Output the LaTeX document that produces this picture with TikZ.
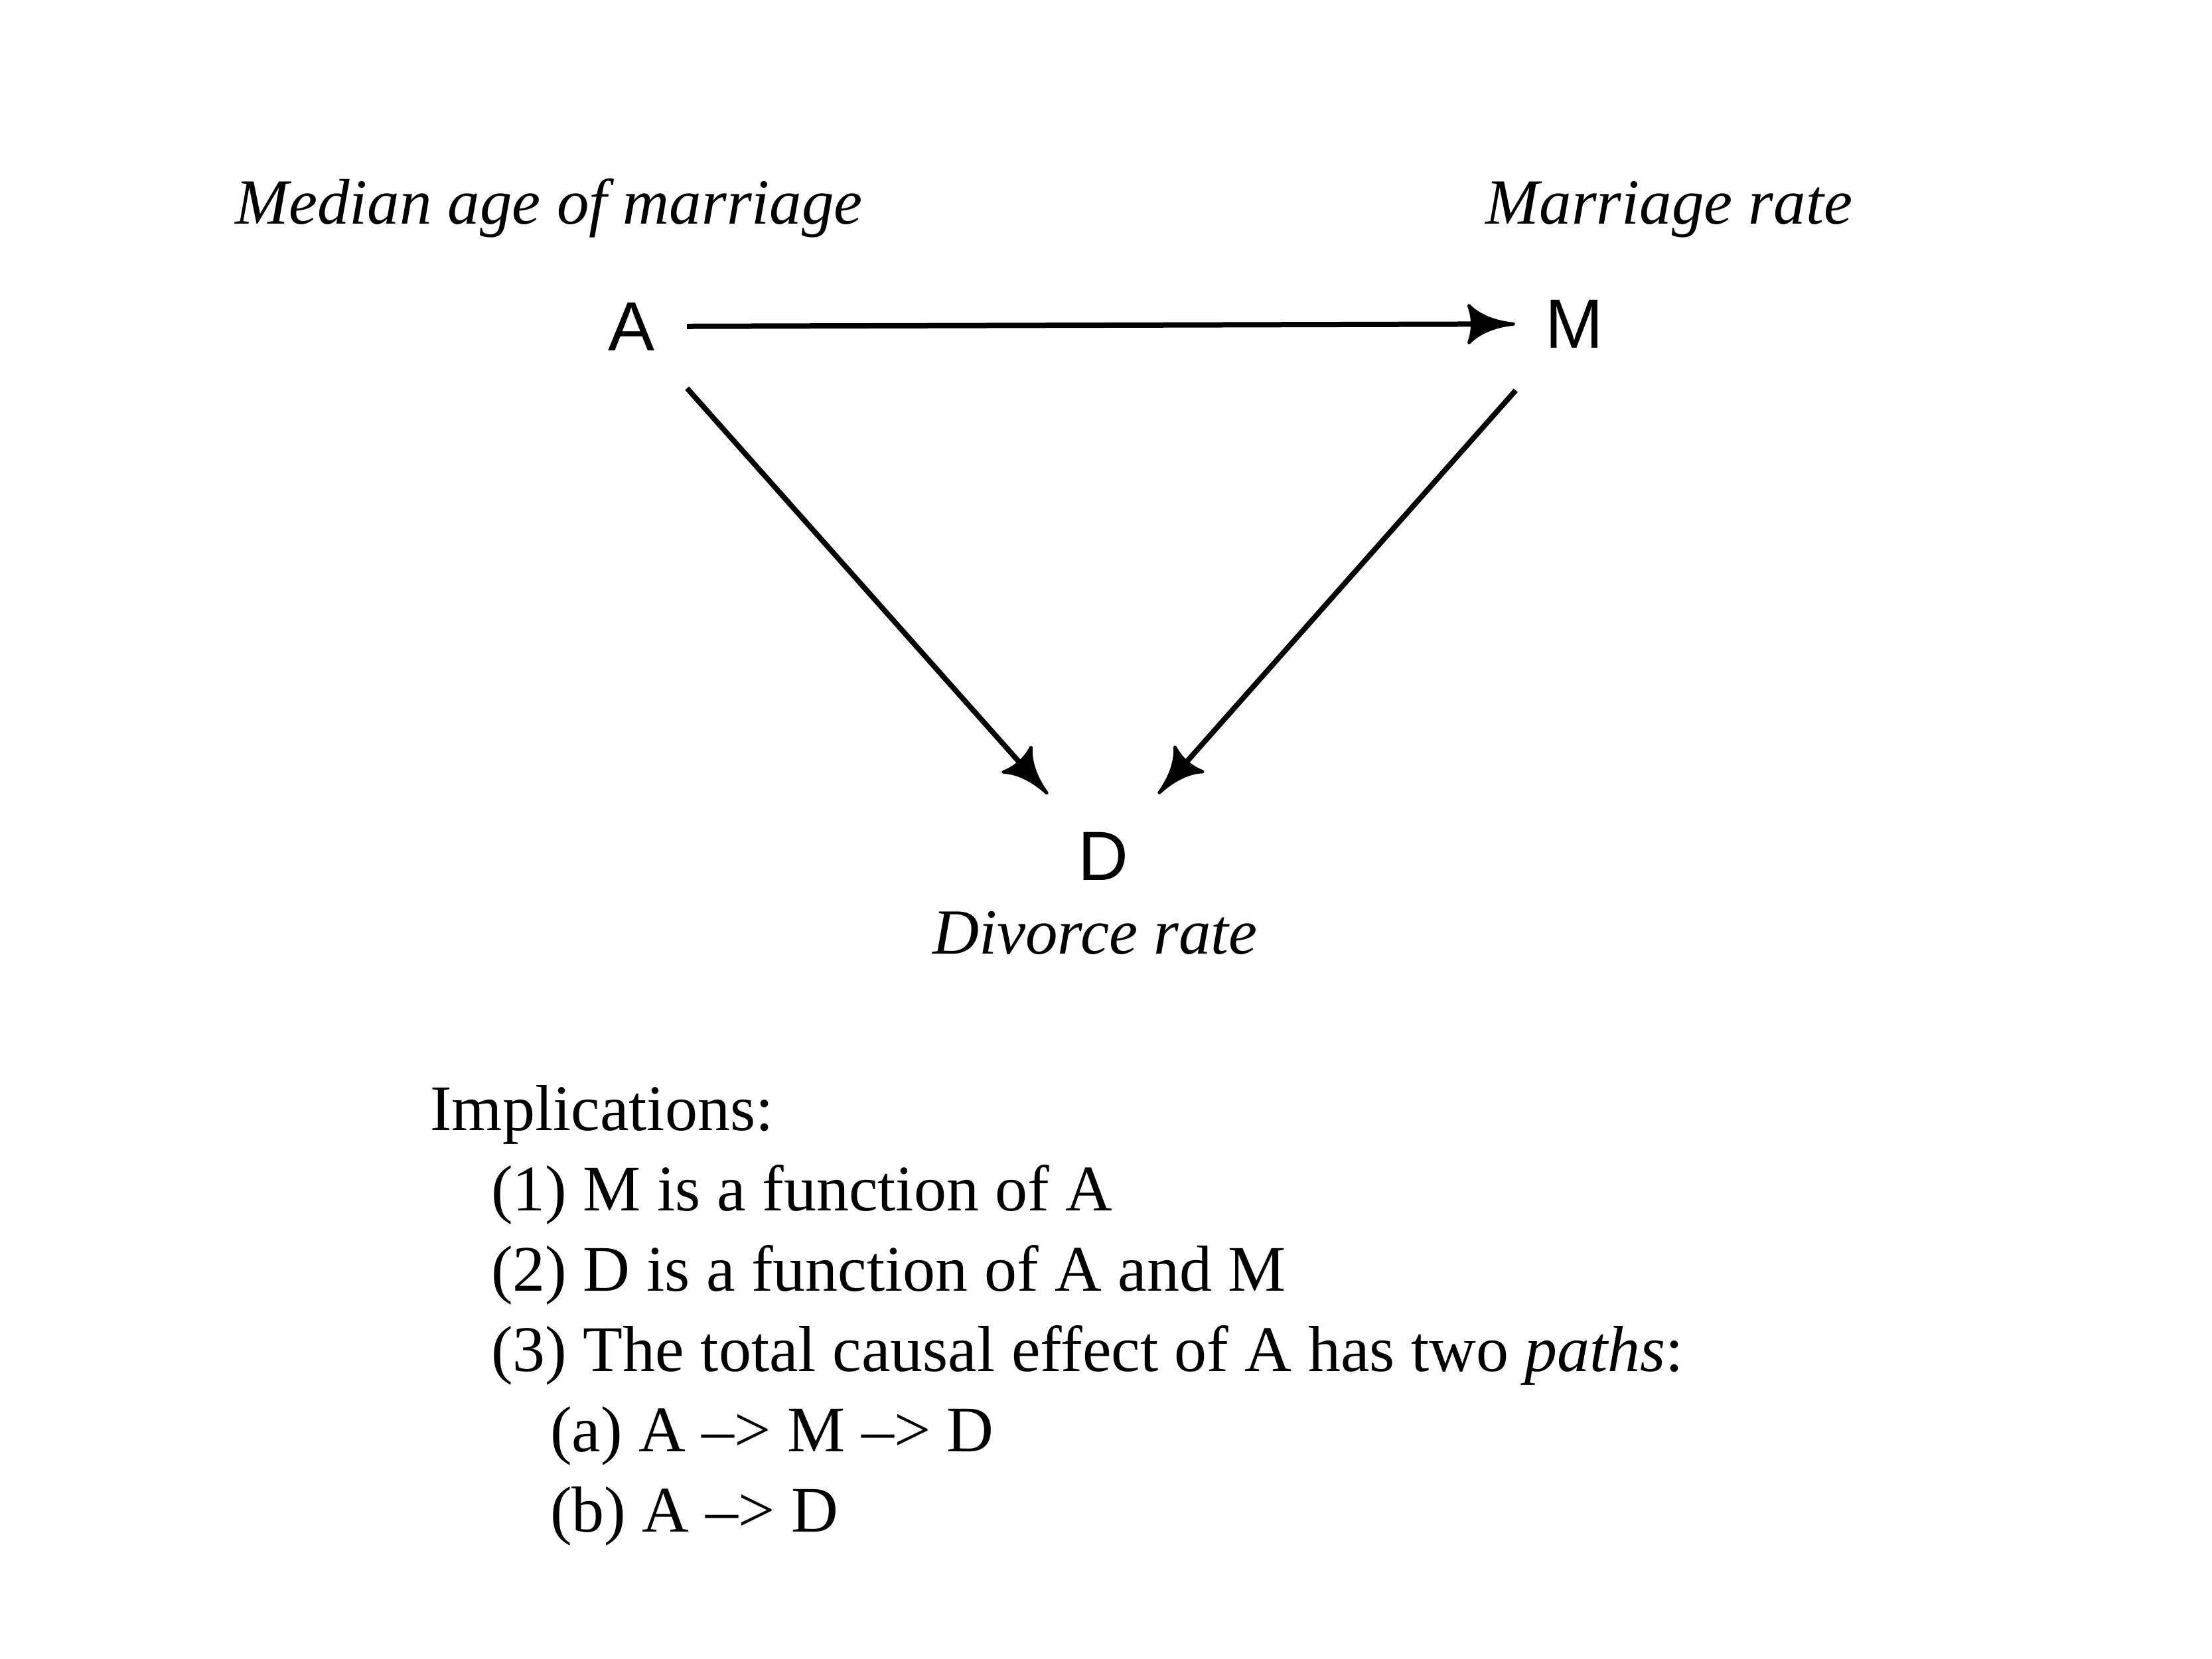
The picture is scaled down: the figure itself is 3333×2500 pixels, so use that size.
\documentclass[tikz,border=0pt]{standalone}
\usepackage{fontspec}
\setmainfont{Liberation Serif}
\newfontfamily\lsans{Liberation Sans}
\usetikzlibrary{arrows.meta}
\pgfdeclarearrow{
  name = Curvy,
  setup code = {
    \pgfarrowssettipend{2.5pt}
    \pgfarrowssetlineend{-50pt}
    \pgfarrowssetbackend{-72pt}
  },
  drawing code = {
    \pgfsetlinewidth{5pt}
    \pgfsetroundjoin
    \pgfpathmoveto{\pgfqpoint{0pt}{0pt}}
    \pgfpathcurveto{\pgfqpoint{-22pt}{2pt}}{\pgfqpoint{-50pt}{10pt}}{\pgfqpoint{-67pt}{28pt}}
    \pgfpathcurveto{\pgfqpoint{-60pt}{10pt}}{\pgfqpoint{-60pt}{-10pt}}{\pgfqpoint{-67pt}{-28pt}}
    \pgfpathcurveto{\pgfqpoint{-50pt}{-10pt}}{\pgfqpoint{-22pt}{-2pt}}{\pgfqpoint{0pt}{0pt}}
    \pgfpathclose
    \pgfusepathqfillstroke
  }
}
\tikzset{
  var/.style={font=\lsans\fontsize{105}{120}\selectfont, inner sep=0pt, minimum height=200pt},
  lab/.style={font=\itshape\fontsize{97}{118}\selectfont, inner sep=0pt, anchor=base},
  txt/.style={font=\fontsize{98}{118}\selectfont, inner sep=0pt, anchor=base west},
  conn/.style={line width=8pt, -{Curvy}}
}
\begin{document}
\begin{tikzpicture}[x=1pt,y=-1pt]
\useasboundingbox (0,0) rectangle (3333,2500);
\node[var, minimum width=166pt] (A) at (952,492) {A};
\node[var, minimum width=178pt] (M) at (2372,488) {M};
\node[var, minimum width=166pt] (D) at (1662,1290) {D};
\node[lab] (medlab) at (827,337) {Median age of marriage};
\node[lab] (marlab) at (2515,337) {Marriage rate};
\node[lab] (divlab) at (1650,1437) {Divorce rate};
\draw[conn] (A) -- (M);
\draw[conn] (A) -- (D);
\draw[conn] (M) -- (D);
\node[txt] (imp) at (648,1703) {Implications:};
\node[txt] (i1) at (740,1824) {(1) M is a function of A};
\node[txt] (i2) at (740,1945) {(2) D is a function of A and M};
\node[txt] (i3) at (740,2066) {(3) The total causal effect of A has two \textit{paths}:};
\node[txt] (ia) at (829,2187) {(a) A --> M --> D};
\node[txt] (ib) at (829,2308) {(b) A --> D};
\end{tikzpicture}
\end{document}
